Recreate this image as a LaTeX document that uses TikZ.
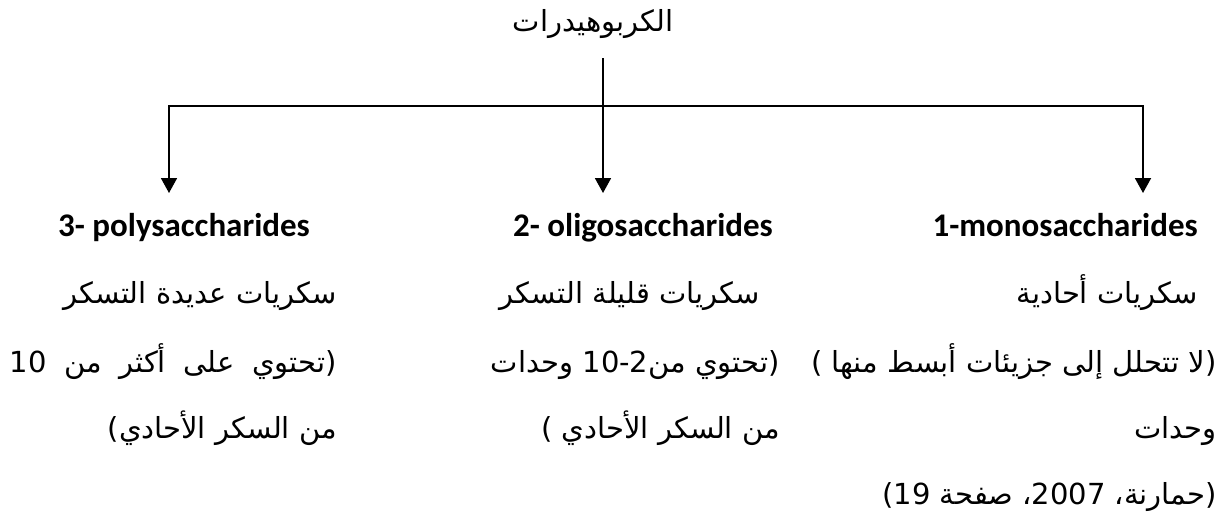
\documentclass[tikz,border=0pt]{standalone}
\usepackage{fontspec}
\setmainfont{Carlito}
\newfontfamily\arabicfont[Script=Arabic]{DejaVu Sans}
\TeXXeTstate=1
\usetikzlibrary{arrows.meta}
\begin{document}
\begin{tikzpicture}[x=1pt,y=-1pt,
  conn/.style={line width=1.8pt},
  arr/.style={conn,-{Triangle[length=15pt,width=16pt]}},
  head/.style={anchor=base east,inner sep=0pt,font=\fontsize{33}{38}\selectfont\bfseries},
  ar/.style={anchor=base east,inner sep=0pt,font=\fontsize{29}{34}\selectfont\arabicfont}]
\useasboundingbox[fill=white] (0,0) rectangle (1228,520);
% title
\node[ar,anchor=base] (title) at (593,31) {\beginR الكربوهيدرات\endR};
% connector points
\coordinate (top) at (603,58);
\coordinate (j) at (603,106);
\coordinate (lft) at (169,106);
\coordinate (rgt) at (1143,106);
\coordinate (a3) at (169,193);
\coordinate (a2) at (603,193);
\coordinate (a1) at (1143,193);
\draw[conn] (top) -- (j);
\draw[conn,line cap=rect] (lft) -- (rgt);
\draw[arr] (lft) -- (a3);
\draw[arr] (j) -- (a2);
\draw[arr] (rgt) -- (a1);
% headings
\node[head] (h3) at (310,236) {3- polysaccharides};
\node[head] (h2) at (773,236) {2- oligosaccharides};
\node[head] (h1) at (1198,236) {1-monosaccharides};
% column 3
\node[ar] (c3a) at (337,303) {\beginR سكريات عديدة التسكر\endR};
\node[ar] (c3b) at (337,372) {\makebox[327pt][s]{\beginR (تحتوي على أكثر من 10\endR}};
\node[ar] (c3c) at (337,438) {\beginR من السكر الأحادي)\endR};
% column 2
\node[ar] (c2a) at (760,303) {\beginR سكريات قليلة التسكر\endR};
\node[ar] (c2b) at (780,372) {\beginR (تحتوي من2-10 وحدات\endR};
\node[ar] (c2c) at (780,438) {\beginR من السكر الأحادي )\endR};
% column 1
\node[ar] (c1a) at (1198,303) {\beginR سكريات أحادية\endR};
\node[ar] (c1b) at (1217,372) {\beginR (لا تتحلل إلى جزيئات أبسط منها )\endR};
\node[ar] (c1c) at (1217,438) {\beginR وحدات\endR};
\node[ar] (c1d) at (1217,504) {\beginR (حمارنة، 2007، صفحة 19)\endR};
\end{tikzpicture}
\end{document}
